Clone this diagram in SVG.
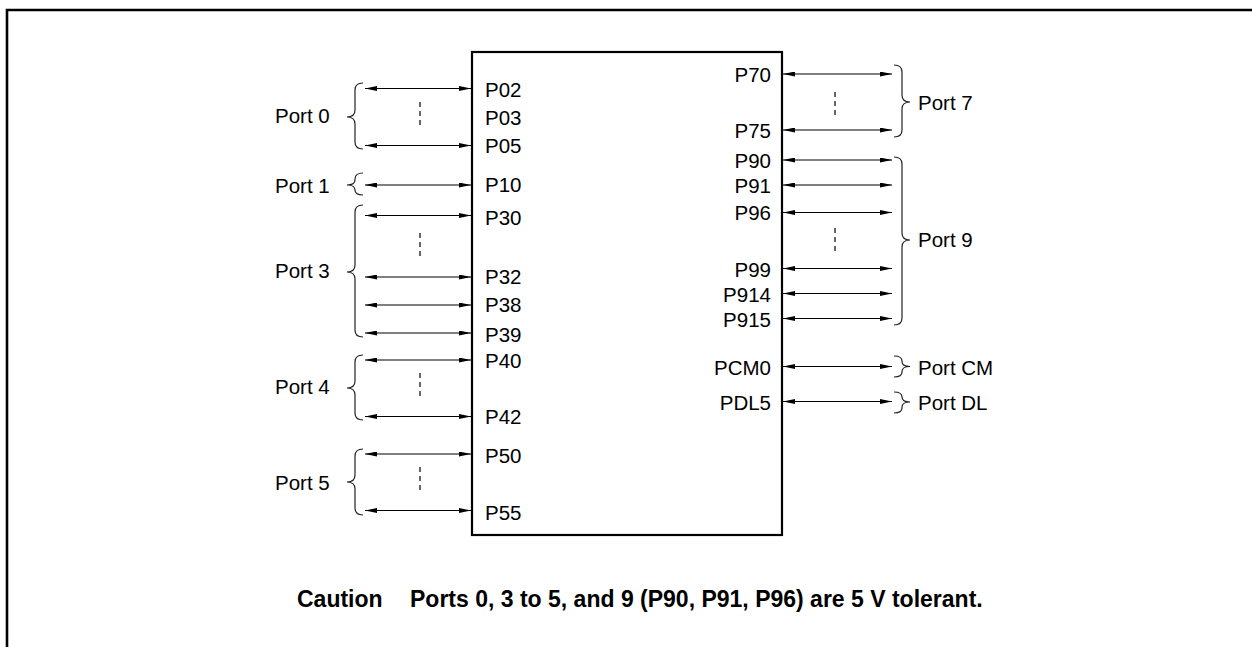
<svg xmlns="http://www.w3.org/2000/svg" width="1252" height="647" viewBox="0 0 1252 647">
<defs>
<marker id="ah" viewBox="0 0 12 5" refX="12" refY="2.5" markerWidth="12" markerHeight="5" markerUnits="userSpaceOnUse" orient="auto-start-reverse">
<path d="M0,0 L12,2.5 L0,5 z" fill="#000"/>
</marker>
<style>
.t{font-family:"Liberation Sans",Arial,Helvetica,sans-serif;font-size:20.5px;fill:#000}
.r{text-anchor:end}
.b{font-family:"Liberation Sans",Arial,Helvetica,sans-serif;font-size:23px;font-weight:bold;fill:#000}
.a{stroke:#000;stroke-width:1.2;fill:none;marker-start:url(#ah);marker-end:url(#ah)}
.br{stroke:#222;stroke-width:1.2;fill:none}
.d{stroke:#000;stroke-width:1.2;stroke-dasharray:5 4;fill:none}
</style>
</defs>
<rect width="1252" height="647" fill="#fff"/>
<path d="M7,647 V10 H1252" fill="none" stroke="#000" stroke-width="2.6"/>

<g id="chip">
<rect x="472" y="52" width="310" height="483" fill="#fff" stroke="#000" stroke-width="2.2"/>
<text class="t" x="485" y="97">P02</text>
<text class="t" x="485" y="125">P03</text>
<text class="t" x="485" y="153">P05</text>
<text class="t" x="485" y="192">P10</text>
<text class="t" x="485" y="225">P30</text>
<text class="t" x="485" y="284">P32</text>
<text class="t" x="485" y="312">P38</text>
<text class="t" x="485" y="342">P39</text>
<text class="t" x="485" y="368">P40</text>
<text class="t" x="485" y="424">P42</text>
<text class="t" x="485" y="463">P50</text>
<text class="t" x="485" y="520">P55</text>
<text class="t r" x="771" y="82">P70</text>
<text class="t r" x="771" y="138">P75</text>
<text class="t r" x="771" y="168">P90</text>
<text class="t r" x="771" y="193">P91</text>
<text class="t r" x="771" y="220">P96</text>
<text class="t r" x="771" y="276.5">P99</text>
<text class="t r" x="771" y="301.5">P914</text>
<text class="t r" x="771" y="326.5">P915</text>
<text class="t r" x="771" y="375">PCM0</text>
<text class="t r" x="771" y="410">PDL5</text>
</g>

<g id="port0">
<path class="br" d="M363,83 Q355,83 355,90 L355,110 Q355,117 347,117 Q355,117 355,124 L355,142 Q355,149 363,149"/>
<text class="t" x="275" y="123">Port 0</text>
</g>
<g id="port1">
<path class="br" d="M363,173 Q355,173 355,179 L355,180 Q355,185 347,185 Q355,185 355,190 L355,190 Q355,195 363,195"/>
<text class="t" x="275" y="193">Port 1</text>
</g>
<g id="port3">
<path class="br" d="M363,205 Q355,205 355,212 L355,265 Q355,272 347,272 Q355,272 355,279 L355,330 Q355,337 363,337"/>
<text class="t" x="275" y="278">Port 3</text>
</g>
<g id="port4">
<path class="br" d="M363,355 Q355,355 355,362 L355,381 Q355,388 347,388 Q355,388 355,395 L355,413 Q355,420 363,420"/>
<text class="t" x="275" y="394">Port 4</text>
</g>
<g id="port5">
<path class="br" d="M363,449 Q355,449 355,456 L355,475 Q355,482 347,482 Q355,482 355,489 L355,508 Q355,515 363,515"/>
<text class="t" x="275" y="489.5">Port 5</text>
</g>
<g id="port7">
<path class="br" d="M894,65 Q902,65 902,72 L902,95 Q902,102 910,102 Q902,102 902,109 L902,130 Q902,137 894,137"/>
<text class="t" x="918" y="110">Port 7</text>
</g>
<g id="port9">
<path class="br" d="M894,157 Q902,157 902,164 L902,233 Q902,240 910,240 Q902,240 902,247 L902,318 Q902,325 894,325"/>
<text class="t" x="918" y="246.5">Port 9</text>
</g>
<g id="portCM">
<path class="br" d="M894,356 Q902,356 902,361 L902,361.5 Q902,366.5 910,366.5 Q902,366.5 902,371.5 L902,372 Q902,377 894,377"/>
<text class="t" x="918" y="375">Port CM</text>
</g>
<g id="portDL">
<path class="br" d="M894,392 Q902,392 902,397 L902,397 Q902,402 910,402 Q902,402 902,407 L902,408 Q902,413 894,413"/>
<text class="t" x="918" y="410">Port DL</text>
</g>

<g id="connectors">
<line class="a" x1="365" y1="88.5" x2="471" y2="88.5"/>
<line class="a" x1="365" y1="145.5" x2="471" y2="145.5"/>
<line class="a" x1="365" y1="185" x2="471" y2="185"/>
<line class="a" x1="365" y1="215.5" x2="471" y2="215.5"/>
<line class="a" x1="365" y1="277" x2="471" y2="277"/>
<line class="a" x1="365" y1="305" x2="471" y2="305"/>
<line class="a" x1="365" y1="333" x2="471" y2="333"/>
<line class="a" x1="365" y1="360" x2="471" y2="360"/>
<line class="a" x1="365" y1="416.5" x2="471" y2="416.5"/>
<line class="a" x1="365" y1="454" x2="471" y2="454"/>
<line class="a" x1="365" y1="510.5" x2="471" y2="510.5"/>
<line class="a" x1="783" y1="74" x2="892" y2="74"/>
<line class="a" x1="783" y1="130" x2="892" y2="130"/>
<line class="a" x1="783" y1="160" x2="892" y2="160"/>
<line class="a" x1="783" y1="185" x2="892" y2="185"/>
<line class="a" x1="783" y1="212.5" x2="892" y2="212.5"/>
<line class="a" x1="783" y1="268.5" x2="892" y2="268.5"/>
<line class="a" x1="783" y1="293.5" x2="892" y2="293.5"/>
<line class="a" x1="783" y1="318.5" x2="892" y2="318.5"/>
<line class="a" x1="783" y1="366.5" x2="892" y2="366.5"/>
<line class="a" x1="783" y1="401.5" x2="892" y2="401.5"/>
<line class="d" x1="420" y1="102" x2="420" y2="128"/>
<line class="d" x1="420" y1="233" x2="420" y2="260"/>
<line class="d" x1="420" y1="373" x2="420" y2="399"/>
<line class="d" x1="420" y1="467" x2="420" y2="493"/>
<line class="d" x1="835" y1="92" x2="835" y2="117"/>
<line class="d" x1="835" y1="228" x2="835" y2="254"/>
</g>

<g id="caution">
<text class="b" x="297" y="607">Caution</text>
<text class="b" x="410" y="607">Ports 0, 3 to 5, and 9 (P90, P91, P96) are 5 V tolerant.</text>
</g>
</svg>
